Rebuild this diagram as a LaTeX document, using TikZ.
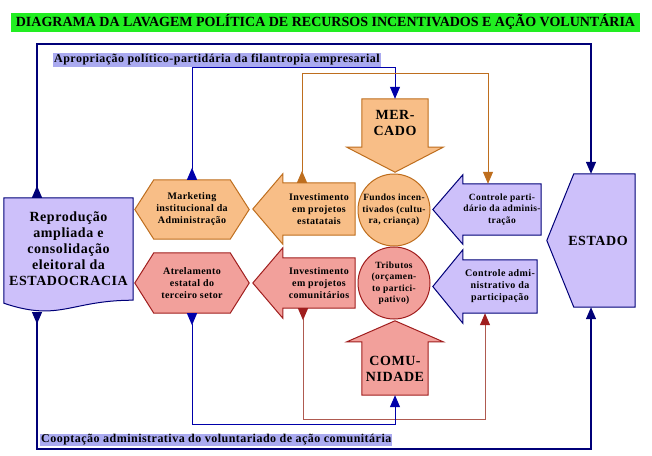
\documentclass[tikz,border=0pt]{standalone}
\usepackage{fontspec}
\setmainfont{Liberation Serif}[LetterSpace=4]
\newfontfamily\titlefont{Liberation Serif}
\usepackage{tikz}
\usetikzlibrary{arrows.meta,backgrounds,calc}

\definecolor{titlegreen}{RGB}{34,238,34}
\definecolor{labellav}{RGB}{170,170,240}
\definecolor{orfill}{RGB}{248,190,135}
\definecolor{orline}{RGB}{190,110,30}
\definecolor{rdfill}{RGB}{242,160,155}
\definecolor{rdline}{RGB}{160,30,30}
\definecolor{rdpath}{RGB}{175,90,80}
\definecolor{lvfill}{RGB}{205,192,250}
\definecolor{navy}{RGB}{0,0,120}
\definecolor{linkblue}{RGB}{0,0,170}

% outlines of the block shapes, drawn round the named text nodes
\newcommand{\leftblock}[4]{\filldraw[#4] (#1.north east) -- (#1.north west) -- ([yshift=#3]#1.north west) -- ([xshift=-#2]#1.west) -- ([yshift=-#3]#1.south west) -- (#1.south west) -- (#1.south east) -- cycle;}
\newcommand{\downblock}[4]{\filldraw[#4] (#1.south west) -- (#1.north west) -- (#1.north east) -- (#1.south east) -- ([xshift=#3]#1.south east) -- ([yshift=-#2]#1.south) -- ([xshift=-#3]#1.south west) -- cycle;}
\newcommand{\upblock}[4]{\filldraw[#4] (#1.north west) -- (#1.south west) -- (#1.south east) -- (#1.north east) -- ([xshift=#3]#1.north east) -- ([yshift=#2]#1.north) -- ([xshift=-#3]#1.north west) -- cycle;}
\newcommand{\hexa}[3]{\filldraw[#3] ([xshift=#2]#1.north west) -- ([xshift=-#2]#1.north east) -- (#1.east) -- ([xshift=-#2]#1.south east) -- ([xshift=#2]#1.south west) -- (#1.west) -- cycle;}

\begin{document}
\begin{tikzpicture}[x=1pt,y=-1pt,
	every node/.style={inner sep=0pt, align=center, font=\bfseries\fontsize{10}{12}\selectfont},
	bigtext/.style={font=\bfseries\fontsize{14}{16}\selectfont},
	smalltext/.style={font=\bfseries\fontsize{9.5}{11.5}\selectfont},
	tag/.style={fill=labellav, inner sep=1pt, anchor=west, font=\bfseries\fontsize{12}{14}\selectfont},
	orshape/.style={fill=orfill, draw=orline, line width=1pt},
	rdshape/.style={fill=rdfill, draw=rdline, line width=1pt},
	lvshape/.style={fill=lvfill, draw=navy, line width=1pt},
	link/.style={line width=1pt, draw=#1, {Triangle[reversed,length=12pt,width=10pt]}-{Triangle[length=12pt,width=10pt]}},
	framelink/.style={link=navy, line width=1.3pt},
	rdlink/.style={line width=1pt, draw=rdpath, {Triangle[reversed,length=12pt,width=10pt,color=rdline]}-{Triangle[length=12pt,width=10pt,color=rdline]}}]
	\useasboundingbox (0,0) rectangle (652,455);
	%title bar
	\node[fill=titlegreen, minimum width=629pt, minimum height=19pt, font=\titlefont\bfseries\fontsize{14}{16}\selectfont] (title) at (325.5,22) {DIAGRAMA DA LAVAGEM POLÍTICA DE RECURSOS INCENTIVADOS E AÇÃO VOLUNTÁRIA};
	\node[tag] (aprop) at (53,60) {Apropriação político-partidária da filantropia empresarial};
	\node[tag] (coopt) at (40,440) {Cooptação administrativa do voluntariado de ação comunitária};
	%% left column
	\node[bigtext, minimum width=129pt, minimum height=102pt] (rep) at (68.5,249) {Reprodução\\ampliada e\\consolidação\\eleitoral da\\ESTADOCRACIA};
	\node[minimum width=114pt, minimum height=59pt] (mkt) at (192,209.5) {Marketing\\institucional da\\Administração};
	\node[minimum width=114pt, minimum height=60pt] (atr) at (192,283) {Atrelamento\\estatal do\\terceiro setor};
	%% middle
	\node[minimum width=72pt, minimum height=52pt] (inv1) at (319,209) {Investimento\\em projetos\\estatatais};
	\node[minimum width=72pt, minimum height=50pt] (inv2) at (319,283) {Investimento\\em projetos\\comunitários};
	\node[circle, orshape, smalltext, minimum size=72pt] (fun) at (394,210) {Fundos incen-\\tivados (cultu-\\ra, criança)};
	\node[circle, rdshape, smalltext, minimum size=72pt] (tri) at (394,283) {Tributos\\(orçamen-\\to partici-\\pativo)};
	\node[bigtext, minimum width=66pt, minimum height=48pt] (mer) at (395,123) {MER-\\CADO};
	\node[bigtext, minimum width=66pt, minimum height=53pt] (com) at (395,368.5) {COMU-\\NIDADE};
	%% right column
	\node[smalltext, minimum width=78pt, minimum height=51pt] (cp) at (502,209.5) {Controle parti-\\dário da adminis-\\tração};
	\node[minimum width=74pt, minimum height=53pt] (ca) at (500,286.5) {Controle admi-\\nistrativo da\\participação};
	\node[bigtext, minimum width=88pt, minimum height=133pt] (est) at (591,240.5) {\hspace*{14pt}ESTADO};
	%% outlines behind the texts
	\begin{scope}[on background layer]
		\fill[white] (0,0) rectangle (652,455);
		\filldraw[lvshape] (rep.south east) -- (rep.north east) -- (rep.north west) -- ([yshift=-3pt]rep.south west) .. controls +(56,19) and +(-63,0) .. (rep.south east) -- cycle;
		\hexa{mkt}{19pt}{orshape}
		\hexa{atr}{19pt}{rdshape}
		\leftblock{inv1}{30pt}{9pt}{orshape}
		\leftblock{inv2}{30pt}{10pt}{rdshape}
		\downblock{mer}{25pt}{15pt}{orshape}
		\upblock{com}{21pt}{15pt}{rdshape}
		\leftblock{cp}{30pt}{9pt}{lvshape}
		\leftblock{ca}{30pt}{10pt}{lvshape}
		\filldraw[lvshape] (est.north east) -- (est.south east) -- ([xshift=27pt]est.south west) -- (est.west) -- ([xshift=27pt]est.north west) -- cycle;
	\end{scope}
	%% frame corners and foot of the document shape
	\coordinate (tl) at (37,44); \coordinate (tr) at (591,44);
	\coordinate (bl) at (37,449); \coordinate (br) at (591,449);
	\coordinate (repfoot) at (37,312);
	\draw[framelink] (rep.north -| tl) -- (tl) -- (tr) -- (est.north);
	\draw[framelink] (repfoot) -- (bl) -- (br) -- (est.south);
	%% inner loops
	\draw[link=linkblue] (mkt.north) -- ++(0,-112) -| (mer.north);
	\draw[link=orline] ([xshift=-17pt]inv1.north) -- ++(0,-109) -| ([xshift=-14pt]cp.north);
	\draw[rdlink] ([xshift=-16pt]inv2.south) -- ++(0,111) -| ([xshift=-15pt]ca.south);
	\draw[link=linkblue] (atr.south) -- ++(0,111) -| (com.south);
\end{tikzpicture}
\end{document}
